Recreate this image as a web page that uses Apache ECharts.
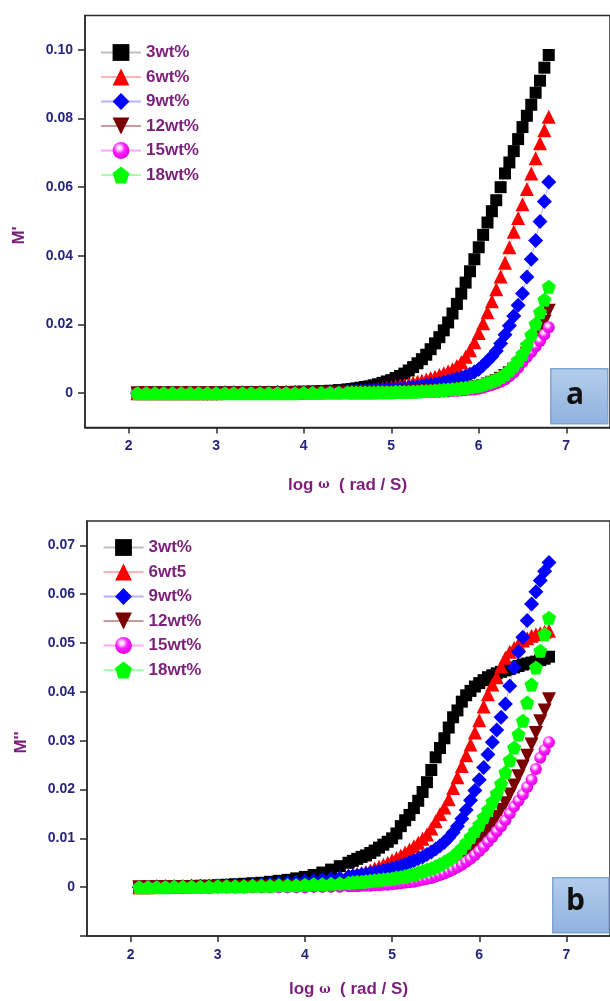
<!DOCTYPE html>
<html><head><meta charset="utf-8">
<script src="https://cdn.jsdelivr.net/npm/echarts@6/dist/echarts.min.js"></script>
<style>html,body{margin:0;padding:0;background:#fff}#c{width:610px;height:1001px}</style>
</head><body><div id="c"></div><script>
// log ω values (rad/s)
const xLog = [2.1,2.2,2.3,2.4,2.5,2.6,2.7,2.8,2.9,3.0,
  3.1,3.2,3.3,3.4,3.5,3.6,3.7,3.8,3.9,4.0,
  4.1,4.2,4.3,4.4,
  4.5,4.55,4.6,4.65,4.7,4.75,4.8,4.85,4.9,4.95,
  5.0,5.05,5.1,5.15,5.2,5.25,5.3,5.35,5.4,5.45,
  5.5,5.55,5.6,5.65,5.7,5.75,5.8,5.85,5.9,5.95,
  6.0,6.05,6.1,6.15,6.2,6.25,6.3,6.35,6.4,6.45,
  6.5,6.55,6.6,6.65,6.7,6.75,6.8];

const namesTop = ['3wt%','6wt%','9wt%','12wt%','15wt%','18wt%'];
const namesBottom = ['3wt%','6wt5','9wt%','12wt%','15wt%','18wt%'];

const xTicks = [2,3,4,5,6,7];
const yTicksTop = [0,0.02,0.04,0.06,0.08,0.10];
const yTicksBottom = [0,0.01,0.02,0.03,0.04,0.05,0.06,0.07];

// M' (panel a)
const mp3 = [0,0,0,0,0,0,0,0,0,0,
  0.0001,0.0001,0.0001,0.0002,0.0002,0.0002,0.0003,0.0003,0.0004,0.0004,
  0.0005,0.0006,0.0007,0.0009,
  0.0011,0.0012,0.0014,0.0016,0.0018,0.0020,0.0023,0.0026,0.0030,0.0034,
  0.0038,0.0044,0.0050,0.0057,0.0066,0.0076,0.0087,0.0099,0.0112,0.0128,
  0.0145,0.0163,0.0183,0.0206,0.0232,0.0260,0.0290,0.0322,0.0355,0.0390,
  0.0425,0.0461,0.0497,0.0530,0.0562,0.0600,0.0640,0.0672,0.0705,0.0740,
  0.0775,0.0808,0.0840,0.0875,0.0910,0.0948,0.0985];
const mp6 = [0,0,0,0,0,0,0,0,0,0,
  0.0001,0.0001,0.0001,0.0001,0.0001,0.0002,0.0002,0.0002,0.0002,0.0002,
  0.0003,0.0003,0.0004,0.0005,
  0.0006,0.0006,0.0007,0.0008,0.0009,0.0010,0.0011,0.0012,0.0014,0.0016,
  0.0018,0.0020,0.0022,0.0024,0.0027,0.0030,0.0033,0.0036,0.0040,0.0044,
  0.0048,0.0053,0.0058,0.0064,0.0070,0.0079,0.0090,0.0106,0.0125,0.0148,
  0.0175,0.0204,0.0236,0.0268,0.0303,0.0340,0.0380,0.0425,0.0470,0.0510,
  0.0550,0.0595,0.0640,0.0684,0.0728,0.0766,0.0805];
const mp9 = [0,0,0,0,0,0,0,0,0,0,
  0.0001,0.0001,0.0001,0.0001,0.0001,0.0001,0.0002,0.0002,0.0002,0.0002,
  0.0003,0.0003,0.0004,0.0004,
  0.0005,0.0005,0.0006,0.0006,0.0007,0.0007,0.0008,0.0008,0.0009,0.0010,
  0.0011,0.0012,0.0013,0.0014,0.0016,0.0017,0.0019,0.0021,0.0023,0.0025,
  0.0027,0.0029,0.0032,0.0035,0.0038,0.0041,0.0045,0.0050,0.0055,0.0062,
  0.0070,0.0081,0.0094,0.0107,0.0123,0.0145,0.0170,0.0196,0.0225,0.0256,
  0.0290,0.0338,0.0390,0.0445,0.0500,0.0558,0.0615];
const mp12 = [0,0,0,0,0,0,0,0,0,0,
  0,0,0,0,0,0,0,0,0,0.0001,
  0.0001,0.0001,0.0001,0.0001,
  0.0001,0.0001,0.0002,0.0002,0.0002,0.0002,0.0002,0.0002,0.0002,0.0003,
  0.0003,0.0003,0.0003,0.0004,0.0004,0.0004,0.0004,0.0005,0.0005,0.0005,
  0.0006,0.0006,0.0007,0.0008,0.0009,0.0010,0.0012,0.0013,0.0015,0.0016,
  0.0018,0.0021,0.0025,0.0030,0.0035,0.0042,0.0050,0.0058,0.0068,0.0080,
  0.0095,0.0114,0.0135,0.0157,0.0180,0.0208,0.0240];
const mp15 = [0,0,0,0,0,0,0,0,0,0,
  0,0,0,0,0,0,0,0,0,0,
  0,0,0.0001,0.0001,
  0.0001,0.0001,0.0001,0.0001,0.0001,0.0001,0.0001,0.0001,0.0002,0.0002,
  0.0002,0.0002,0.0002,0.0002,0.0002,0.0002,0.0003,0.0003,0.0003,0.0003,
  0.0004,0.0004,0.0005,0.0005,0.0006,0.0007,0.0008,0.0009,0.0010,0.0011,
  0.0013,0.0016,0.0020,0.0024,0.0028,0.0033,0.0040,0.0049,0.0060,0.0074,
  0.0090,0.0105,0.0120,0.0136,0.0152,0.0171,0.0192];
const mp18 = [0,0,0,0,0,0,0,0,0,0,
  0,0,0,0,0,0,0,0,0,0.0001,
  0.0001,0.0001,0.0001,0.0001,
  0.0002,0.0002,0.0002,0.0002,0.0002,0.0002,0.0002,0.0003,0.0003,0.0003,
  0.0003,0.0004,0.0004,0.0004,0.0004,0.0005,0.0005,0.0006,0.0006,0.0007,
  0.0008,0.0009,0.0010,0.0011,0.0012,0.0013,0.0015,0.0016,0.0018,0.0020,
  0.0022,0.0026,0.0030,0.0035,0.0040,0.0047,0.0055,0.0066,0.0080,0.0096,
  0.0114,0.0140,0.0170,0.0202,0.0236,0.0272,0.0310];

// M'' (panel b)
const mpp3 = [0.0000,0.0000,0.0001,0.0001,0.0001,0.0002,0.0002,0.0003,0.0003,0.0004,
  0.0005,0.0006,0.0007,0.0008,0.0009,0.0011,0.0013,0.0015,0.0018,0.0021,
  0.0025,0.0030,0.0036,0.0043,
  0.0050,0.0054,0.0058,0.0062,0.0065,0.0070,0.0075,0.0081,0.0087,0.0093,
  0.0100,0.0110,0.0125,0.0137,0.0148,0.0162,0.0177,0.0195,0.0215,0.0240,
  0.0266,0.0285,0.0305,0.0327,0.0348,0.0362,0.0380,0.0393,0.0402,0.0411,
  0.0418,0.0424,0.0430,0.0434,0.0438,0.0441,0.0444,0.0447,0.0450,0.0453,
  0.0456,0.0458,0.0460,0.0462,0.0465,0.0468,0.0472];
const mpp6 = [0.0000,0.0000,0.0001,0.0001,0.0001,0.0001,0.0002,0.0002,0.0002,0.0003,
  0.0003,0.0004,0.0004,0.0005,0.0006,0.0007,0.0008,0.0009,0.0010,0.0012,
  0.0014,0.0016,0.0019,0.0021,
  0.0024,0.0025,0.0027,0.0029,0.0031,0.0034,0.0038,0.0042,0.0046,0.0050,
  0.0055,0.0060,0.0065,0.0071,0.0077,0.0084,0.0091,0.0099,0.0108,0.0120,
  0.0135,0.0150,0.0163,0.0180,0.0203,0.0225,0.0248,0.0270,0.0292,0.0317,
  0.0342,0.0370,0.0395,0.0415,0.0430,0.0452,0.0470,0.0482,0.0490,0.0498,
  0.0505,0.0510,0.0515,0.0518,0.0520,0.0523,0.0525];
const mpp9 = [0.0000,0.0000,0.0001,0.0001,0.0001,0.0001,0.0002,0.0002,0.0002,0.0003,
  0.0003,0.0004,0.0004,0.0005,0.0006,0.0007,0.0008,0.0009,0.0010,0.0012,
  0.0013,0.0015,0.0017,0.0019,
  0.0022,0.0023,0.0024,0.0026,0.0027,0.0029,0.0030,0.0032,0.0034,0.0036,
  0.0038,0.0041,0.0044,0.0047,0.0050,0.0054,0.0058,0.0062,0.0067,0.0072,
  0.0078,0.0085,0.0092,0.0101,0.0112,0.0125,0.0140,0.0158,0.0178,0.0198,
  0.0220,0.0245,0.0272,0.0297,0.0322,0.0348,0.0375,0.0412,0.0450,0.0482,
  0.0512,0.0546,0.0580,0.0605,0.0628,0.0647,0.0665];
const mpp12 = [0,0,0,0,0,0,0,0,0,0,
  0,0,0,0.0001,0.0001,0.0001,0.0001,0.0001,0.0001,0.0001,
  0.0002,0.0002,0.0003,0.0003,
  0.0004,0.0004,0.0005,0.0005,0.0006,0.0006,0.0007,0.0008,0.0009,0.0010,
  0.0011,0.0012,0.0013,0.0014,0.0016,0.0018,0.0020,0.0023,0.0026,0.0029,
  0.0032,0.0036,0.0040,0.0044,0.0048,0.0054,0.0061,0.0069,0.0077,0.0086,
  0.0096,0.0107,0.0118,0.0130,0.0144,0.0158,0.0172,0.0190,0.0208,0.0227,
  0.0247,0.0269,0.0292,0.0316,0.0340,0.0362,0.0385];
const mpp15 = [0,0,0,0,0,0,0,0,0,0,
  0,0,0,0,0,0,0,0,0,0,
  0.0001,0.0001,0.0001,0.0001,
  0.0002,0.0002,0.0002,0.0003,0.0003,0.0003,0.0004,0.0004,0.0005,0.0005,
  0.0006,0.0007,0.0008,0.0009,0.0010,0.0011,0.0013,0.0015,0.0017,0.0019,
  0.0022,0.0025,0.0028,0.0032,0.0036,0.0041,0.0046,0.0052,0.0058,0.0066,
  0.0074,0.0083,0.0093,0.0103,0.0114,0.0125,0.0137,0.0151,0.0165,0.0177,
  0.0190,0.0205,0.0220,0.0242,0.0265,0.0281,0.0297];
const mpp18 = [0.0000,0.0000,0.0000,0.0000,0.0001,0.0001,0.0001,0.0001,0.0001,0.0002,
  0.0002,0.0002,0.0002,0.0003,0.0003,0.0003,0.0004,0.0004,0.0004,0.0005,
  0.0006,0.0006,0.0007,0.0008,
  0.0009,0.0010,0.0011,0.0011,0.0012,0.0013,0.0014,0.0015,0.0016,0.0017,
  0.0018,0.0020,0.0021,0.0023,0.0025,0.0027,0.0030,0.0033,0.0036,0.0039,
  0.0043,0.0047,0.0052,0.0057,0.0063,0.0071,0.0080,0.0091,0.0103,0.0115,
  0.0128,0.0143,0.0158,0.0175,0.0192,0.0212,0.0235,0.0260,0.0286,0.0313,
  0.0341,0.0378,0.0415,0.0450,0.0484,0.0518,0.0552];

const topData = [mp3, mp6, mp9, mp12, mp15, mp18];
const bottomData = [mpp3, mpp6, mpp9, mpp12, mpp15, mpp18];

const magentaBall = {type:'radial', x:0.4, y:0.35, r:0.65, colorStops:[
  {offset:0, color:'#ffffff'}, {offset:0.22, color:'#ffc8ff'},
  {offset:0.5, color:'#ff22ff'}, {offset:1, color:'#e000e0'}]};
const pent = 'path://M50,0 L97.6,34.5 L79.4,90.5 L20.6,90.5 L2.4,34.5 Z';
const invTri = 'path://M0,0 L10,0 L5,9 Z';
const marks = [
  {symbol:'rect', size:12, color:'#000000', line:'#bdbdbd'},
  {symbol:'triangle', size:14, color:'#ff0000', line:'#ffb4b4'},
  {symbol:'diamond', size:15, color:'#0000ff', line:'#b4b4ff'},
  {symbol:invTri, size:14, color:'#7a0000', line:'#c99a9a'},
  {symbol:'circle', size:12, color:magentaBall, line:'#ffa8ff'},
  {symbol:pent, size:14, color:'#00ff00', line:'#a8ffa8'}
];

const FONT = '"Liberation Sans", Arial, sans-serif';
const NAVY = '#26267f';
const PURPLE = '#7b1f7b';

function mkSeries(names, data, idx) {
  return names.map((n, k) => ({
    name: n, type: 'line', xAxisIndex: idx, yAxisIndex: idx,
    data: xLog.map((x, i) => [x, data[k][i]]),
    symbol: marks[k].symbol, symbolSize: marks[k].size, showAllSymbol: true,
    itemStyle: {color: marks[k].color, borderWidth: 0},
    lineStyle: {color: marks[k].line, width: 1},
    emphasis: {disabled: true}, animation: false
  }));
}

function xAx(idx, gap) {
  return {
    gridIndex: idx, type: 'value', min: 1.5, max: 7.5,
    name: '{a|log }{w|ω}{a|  ( rad / S)}', nameLocation: 'middle', nameGap: gap,
    nameTextStyle: {rich: {
      a: {fontFamily: FONT, fontWeight: 'bold', fontSize: 17, color: PURPLE},
      w: {fontFamily: '"DejaVu Serif", serif', fontWeight: 'bold', fontSize: 12, color: PURPLE}}},
    axisLine: {onZero: false, lineStyle: {color: '#2a2a2a', width: 1.5}},
    axisTick: {show: true, inside: false, length: 6, customValues: xTicks, lineStyle: {color: '#2a2a2a', width: 1.5}},
    axisLabel: {customValues: xTicks, margin: 12, fontFamily: FONT, fontWeight: 'bold', fontSize: 14, color: NAVY},
    splitLine: {show: false}
  };
}
function yAx(idx, min, max, ticks, tickMarks, name) {
  return {
    gridIndex: idx, type: 'value', min: min, max: max,
    name: name, nameLocation: 'middle', nameGap: 57,
    nameTextStyle: {fontFamily: FONT, fontWeight: 'bold', fontSize: 17, color: PURPLE, padding: [0, 28, 0, 0]},
    axisLine: {onZero: false, lineStyle: {color: '#2a2a2a', width: 1.5}},
    axisTick: {show: true, inside: false, length: 7, customValues: tickMarks, lineStyle: {color: '#2a2a2a', width: 1.5}},
    axisLabel: {customValues: ticks, margin: 12, fontFamily: FONT, fontWeight: 'bold', fontSize: 14, color: NAVY,
      formatter: v => Math.abs(v) < 1e-9 ? '0' : v.toFixed(2)},
    splitLine: {show: false}
  };
}

const legendBase = {
  orient: 'vertical', itemWidth: 40, itemHeight: 21, itemGap: 7.5, padding: 0,
  textStyle: {fontFamily: FONT, fontWeight: 'bold', fontSize: 17, color: PURPLE},
  selectedMode: false
};

const chart = echarts.init(document.getElementById('c'), null, {renderer: 'canvas'});
chart.setOption({
  animation: false,
  backgroundColor: '#ffffff',
  grid: [
    {left: 85, top: 15.5, width: 528, height: 412, show: true, borderColor: '#2a2a2a', borderWidth: 1.5},
    {left: 87, top: 521, width: 523, height: 415, show: true, borderColor: '#2a2a2a', borderWidth: 1.5}
  ],
  xAxis: [xAx(0, 49), xAx(1, 45)],
  yAxis: [
    yAx(0, -0.01, 0.11, yTicksTop, yTicksTop, "M'"),
    yAx(1, -0.01, 0.075, yTicksBottom, [-0.01].concat(yTicksBottom), "M''")
  ],
  legend: [
    Object.assign({}, legendBase, {left: 100, top: 44, data: namesTop}),
    Object.assign({}, legendBase, {left: 102.5, top: 539, data: namesBottom})
  ],
  graphic: [
    {type: 'rect', left: 550, top: 368, shape: {width: 57, height: 55},
      style: {fill: {type: 'linear', x: 0, y: 0, x2: 0, y2: 1, colorStops: [{offset: 0, color: '#b4cdec'}, {offset: 1, color: '#8fb2df'}]},
        stroke: '#7fa5d6', lineWidth: 1.5}, z: 100},
    {type: 'text', left: 566, top: 380, style: {text: 'a', font: 'bold 30px "Open Sans", "Noto Sans", sans-serif', fill: '#111'}, z: 101},
    {type: 'rect', left: 552, top: 877, shape: {width: 56, height: 55},
      style: {fill: {type: 'linear', x: 0, y: 0, x2: 0, y2: 1, colorStops: [{offset: 0, color: '#b4cdec'}, {offset: 1, color: '#8fb2df'}]},
        stroke: '#7fa5d6', lineWidth: 1.5}, z: 100},
    {type: 'text', left: 566, top: 886, style: {text: 'b', font: 'bold 30px "Open Sans", "Noto Sans", sans-serif', fill: '#111'}, z: 101}
  ],
  series: mkSeries(namesTop, topData, 0).concat(mkSeries(namesBottom, bottomData, 1))
});
</script></body></html>
